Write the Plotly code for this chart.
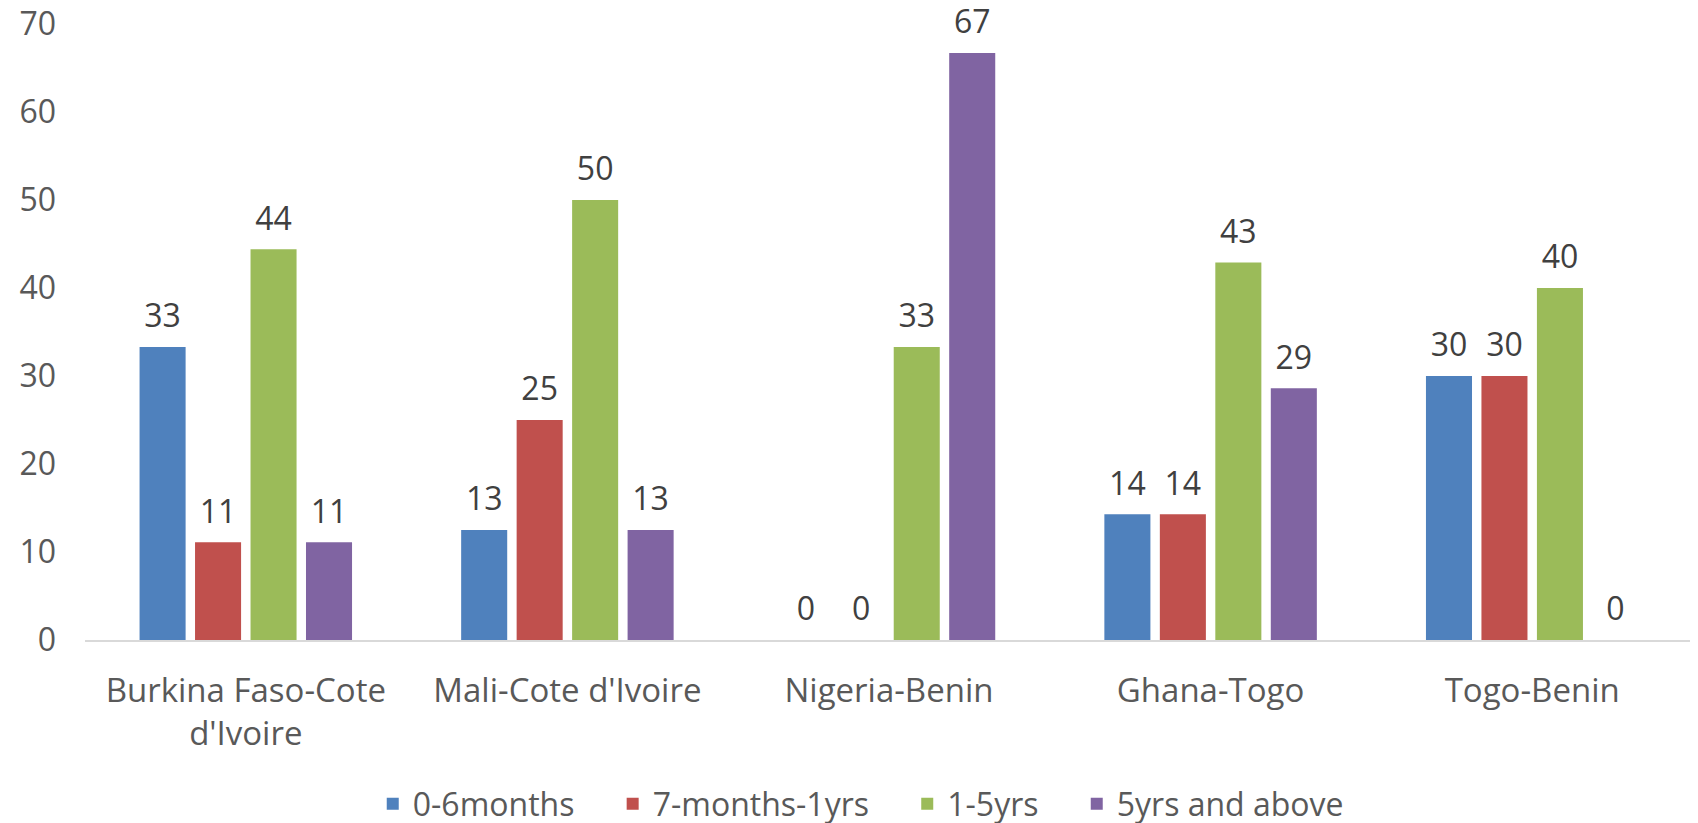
import plotly.graph_objects as go

routes = ["Burkina Faso-Cote<br>d'Ivoire", "Mali-Cote d'Ivoire", "Nigeria-Benin", "Ghana-Togo", "Togo-Benin"]

months_0_6 = [33.3, 12.5, 0, 14.3, 30]
months_7_1yr = [11.1, 25, 0, 14.3, 30]
yrs_1_5 = [44.4, 50, 33.3, 42.9, 40]
yrs_5_plus = [11.1, 12.5, 66.7, 28.6, 0]

series = [
    ("0-6months", months_0_6, "#4F81BD"),
    ("7-months-1yrs", months_7_1yr, "#C0504D"),
    ("1-5yrs", yrs_1_5, "#9BBB59"),
    ("5yrs and above", yrs_5_plus, "#8064A2"),
]

pad = "\u00a0" * 4

fig = go.Figure()
for i, (name, vals, col) in enumerate(series):
    fig.add_trace(go.Bar(
        x=routes, y=vals, name=name + pad, offsetgroup=str(i),
        marker=dict(color=col, line=dict(width=0)),
    ))
    # value labels as a text layer so they sit a little higher above the bars
    fig.add_trace(go.Scatter(
        x=routes, y=vals, offsetgroup=str(i), mode="markers+text",
        marker=dict(size=17, opacity=0), texttemplate="%{y:.0f}",
        textposition="top center", textfont=dict(size=32, color="#404040"),
        showlegend=False, hoverinfo="skip", cliponaxis=False,
    ))

# page body has an 8px margin, so the figure is offset by 8px in the window
fig.update_layout(
    barmode="group",
    scattermode="group",
    bargap=0.31,
    scattergap=0.31,
    bargroupgap=0.17,
    width=1698, height=823,
    margin=dict(l=77, r=13, t=16, b=191, autoexpand=False),
    paper_bgcolor="white", plot_bgcolor="white",
    font=dict(family="Open Sans", size=32, color="#595959"),
    showlegend=True,
    legend=dict(orientation="h", x=0.493, xanchor="center", y=-0.266, yanchor="middle",
                font=dict(size=32, color="#595959"), itemwidth=30),
)
fig.update_yaxes(range=[0, 70], dtick=10, showgrid=False, zeroline=False,
                 showline=False, ticks="", tickfont=dict(size=32, color="#595959"),
                 ticklabelstandoff=28, automargin=False, ticklabeloverflow="allow")
fig.update_xaxes(showline=True, linecolor="#D9D9D9", linewidth=2, ticks="",
                 tickfont=dict(size=33, color="#595959"), ticklabelstandoff=20,
                 automargin=False)

fig.write_html("out.html")
